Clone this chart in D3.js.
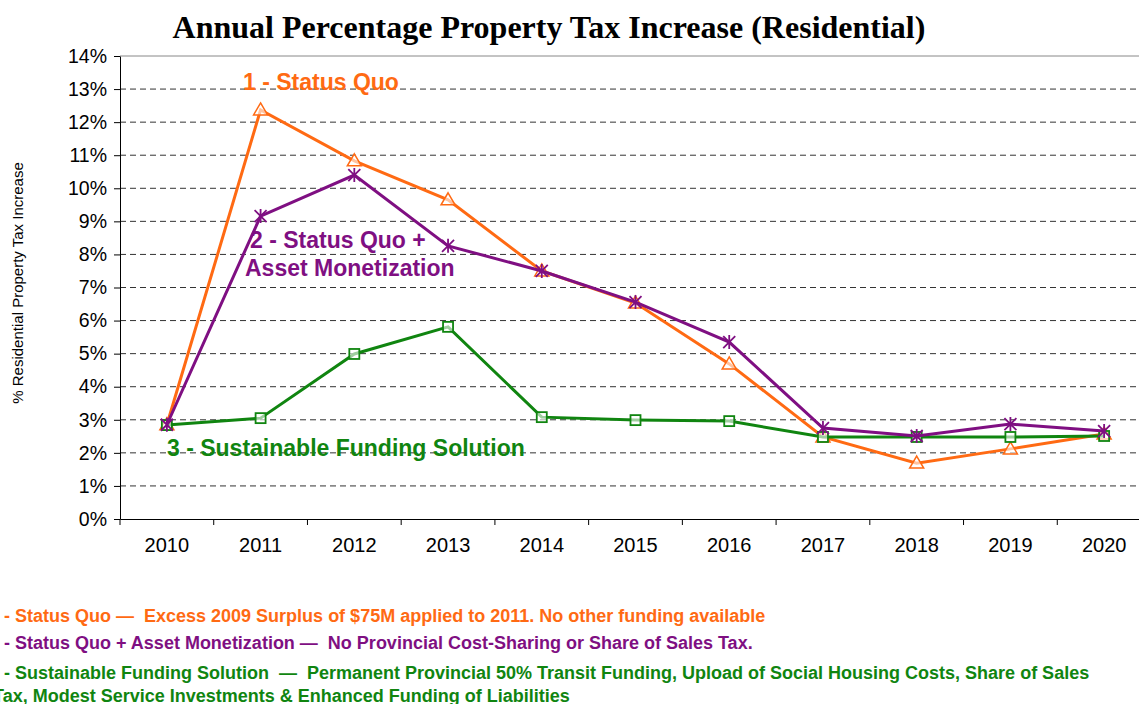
<!DOCTYPE html>
<html lang="en">
<head>
<meta charset="UTF-8">
<title>Annual Percentage Property Tax Increase</title>
<script src="https://d3js.org/d3.v7.min.js"></script>
<style>
  body { margin: 0; background: #fff; }
  svg { display: block; }
</style>
</head>
<body>
<svg id="chart" width="1139" height="704"></svg>
<script>
// data
const years = ["2010","2011","2012","2013","2014","2015","2016","2017","2018","2019","2020"];
const statusQuo = [2.85, 12.37, 10.83, 9.65, 7.5, 6.53, 4.69, 2.48, 1.69, 2.12, 2.57];
const assetMonetization = [2.85, 9.16, 10.4, 8.26, 7.5, 6.56, 5.35, 2.75, 2.51, 2.87, 2.66];
const sustainable = [2.84, 3.05, 4.99, 5.81, 3.08, 2.99, 2.96, 2.48, 2.48, 2.48, 2.51];
const yTicks = [0,1,2,3,4,5,6,7,8,9,10,11,12,13,14];

const orange = "#ff6a13", purple = "#7f0f82", green = "#108510";

const svg = d3.select("#chart");
const plotLeft = 120, plotTop = 56, plotBottom = 519, plotRight = 1151;

const x = d3.scaleBand().domain(years).range([plotLeft, plotRight]);
const y = d3.scaleLinear().domain([0, 14]).range([plotBottom, plotTop]);

// title
svg.append("text")
  .attr("x", 549).attr("y", 38)
  .attr("text-anchor", "middle")
  .style("font-family", "Liberation Serif, Times New Roman, serif")
  .style("font-weight", "bold").style("font-size", "32px")
  .text("Annual Percentage Property Tax Increase (Residential)");

// gridlines
svg.append("g").selectAll("line")
  .data(yTicks.filter(d => d > 0))
  .join("line")
  .attr("x1", plotLeft).attr("x2", plotRight)
  .attr("y1", d => y(d)).attr("y2", d => y(d))
  .attr("stroke", d => d === 14 ? "#888" : "#333")
  .attr("stroke-width", 1)
  .attr("stroke-dasharray", d => d === 14 ? null : "6,4");

// y axis
const yAxis = svg.append("g")
  .attr("transform", `translate(${plotLeft},0)`)
  .call(d3.axisLeft(y).tickValues(yTicks).tickFormat(d => d + "%").tickSize(6).tickSizeOuter(0));
yAxis.select(".domain").attr("stroke", "#000");
yAxis.selectAll("text")
  .style("font-family", "Liberation Sans, Arial, sans-serif")
  .style("font-size", "19.5px").attr("fill", "#000").attr("dx", "-4");

// x axis
const xAxis = svg.append("g")
  .attr("transform", `translate(0,${plotBottom})`)
  .call(d3.axisBottom(x).tickSize(0).tickSizeOuter(0));
xAxis.select(".domain").attr("stroke", "#000");
xAxis.selectAll("text")
  .style("font-family", "Liberation Sans, Arial, sans-serif")
  .style("font-size", "20px").attr("fill", "#000").attr("dy", "1.5em");
// tick marks between categories
svg.append("g").selectAll("line")
  .data(years)
  .join("line")
  .attr("x1", d => x(d)).attr("x2", d => x(d))
  .attr("y1", plotBottom).attr("y2", plotBottom + 6)
  .attr("stroke", "#000");

// y axis title
svg.append("text")
  .attr("transform", "translate(23,283) rotate(-90)")
  .attr("text-anchor", "middle")
  .style("font-family", "Liberation Sans Narrow, Arial Narrow, Liberation Sans, sans-serif")
  .style("font-size", "15px")
  .text("% Residential Property Tax Increase");

const cx = d => x(d) + x.bandwidth() / 2;
const line = d3.line().x((d, i) => cx(years[i])).y(d => y(d));

function drawSeries(values, color, marker) {
  svg.append("path")
    .datum(values)
    .attr("fill", "none")
    .attr("stroke", color)
    .attr("stroke-width", 3)
    .attr("d", line);
  const g = svg.append("g");
  values.forEach((v, i) => {
    const px = cx(years[i]), py = y(v);
    if (marker === "triangle") {
      g.append("path")
        .attr("d", `M${px},${py - 7}L${px + 7},${py + 5}L${px - 7},${py + 5}Z`)
        .attr("fill", "#fff").attr("fill-opacity", 0.6)
        .attr("stroke", color).attr("stroke-width", 1.5);
    } else if (marker === "star") {
      g.append("path")
        .attr("d", `M${px - 6},${py - 6}L${px + 6},${py + 6}M${px - 6},${py + 6}L${px + 6},${py - 6}M${px},${py - 7}L${px},${py + 7}`)
        .attr("stroke", color).attr("stroke-width", 1.8);
    } else {
      g.append("rect")
        .attr("x", px - 5).attr("y", py - 5).attr("width", 10).attr("height", 10)
        .attr("fill", "#fff").attr("fill-opacity", 0.6)
        .attr("stroke", color).attr("stroke-width", 1.8);
    }
  });
}

drawSeries(statusQuo, orange, "triangle");
drawSeries(sustainable, green, "square");
drawSeries(assetMonetization, purple, "star");

// in-chart labels
const labelFont = "Liberation Sans, Arial, sans-serif";
function label(txt, lx, ly, color) {
  svg.append("text")
    .attr("x", lx).attr("y", ly)
    .style("font-family", labelFont).style("font-size", "23px")
    .style("font-weight", "bold").attr("fill", color)
    .text(txt);
}
label("1 - Status Quo", 243, 90, orange);
label("2 - Status Quo +", 250, 248, purple);
label("Asset Monetization", 245, 276, purple);
label("3 - Sustainable Funding Solution", 167, 456, green);

// notes below the chart (left edge is clipped, as in the original)
const notes = [
  ["1 - Status Quo \u2014  Excess 2009 Surplus of $75M applied to 2011. No other funding available", orange, 622],
  ["2 - Status Quo + Asset Monetization \u2014  No Provincial Cost-Sharing or Share of Sales Tax.", purple, 649],
  ["3 - Sustainable Funding Solution  \u2014  Permanent Provincial 50% Transit Funding, Upload of Social Housing Costs, Share of Sales", green, 679],
  ["Tax, Modest Service Investments & Enhanced Funding of Liabilities", green, 702]
];
svg.append("g").selectAll("text")
  .data(notes)
  .join("text")
  .attr("x", (d, i) => i === 3 ? -7 : -11)
  .attr("y", d => d[2])
  .attr("fill", d => d[1])
  .style("font-family", labelFont).style("font-size", "18px")
  .style("font-weight", "bold")
  .style("white-space", "pre")
  .text(d => d[0]);
</script>
</body>
</html>
